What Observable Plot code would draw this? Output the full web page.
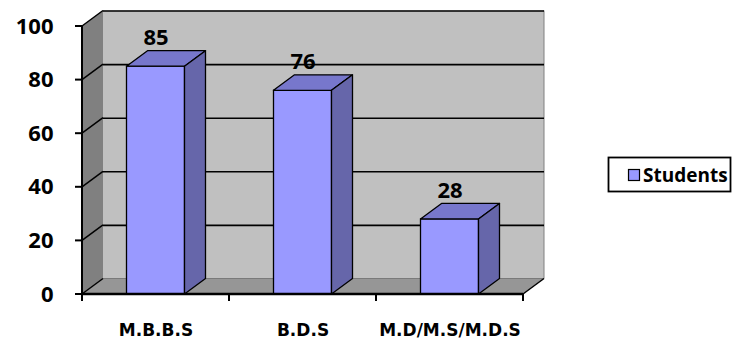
<!DOCTYPE html>
<html>
<head>
<meta charset="utf-8">
<script src="https://cdn.jsdelivr.net/npm/d3@7"></script>
<script src="https://cdn.jsdelivr.net/npm/@observablehq/plot@0.6"></script>
<style>
  html, body { margin: 0; padding: 0; background: #fff; }
  #chart { width: 733px; height: 340px; }
</style>
</head>
<body>
<div id="chart"></div>
<script>
// Number of students per course
const categories = ["M.B.B.S", "B.D.S", "M.D/M.S/M.D.S"];
const students = [85, 76, 28];
const yTicks = [0, 20, 40, 60, 80, 100];
const seriesName = "Students";

const data = categories.map((course, i) => ({course, students: students[i]}));

// 3-D look: depth offset of the box and bars, in pixels
const DEPTH_X = 21, DEPTH_Y = -15.5;
const BAR_INSET = 44.5;
const FRONT = "#9999FF", TOP = "#7777CC", SIDE = "#6666AA";
const BACK_WALL = "#C0C0C0", SIDE_WALL = "#808080", FLOOR = "#969696";

function bandwidthOf(x) {
  return typeof x.bandwidth === "function" ? x.bandwidth() : x.bandwidth;
}
function poly(g, pts, fill, stroke, sw) {
  g.append("path")
    .attr("d", "M" + pts.map(p => p.join(",")).join("L") + "Z")
    .attr("fill", fill)
    .attr("stroke", stroke || "none")
    .attr("stroke-width", sw || 1)
    .attr("stroke-linejoin", "round");
}
function seg(g, x1, y1, x2, y2, stroke, sw) {
  g.append("line")
    .attr("x1", x1).attr("y1", y1).attr("x2", x2).attr("y2", y2)
    .attr("stroke", stroke).attr("stroke-width", sw || 1);
}

// Walls and floor of the 3-D box, plus the grid lines on the left wall
function box3d(index, scales) {
  const {x, y} = scales;
  const bw = bandwidthOf(x);
  const x0 = x(categories[0]), x1 = x(categories[categories.length - 1]) + bw;
  const yb = y(0), yt = y(yTicks[yTicks.length - 1]);
  const g = d3.create("svg:g");
  poly(g, [[x0 + DEPTH_X, yt + DEPTH_Y], [x1 + DEPTH_X, yt + DEPTH_Y], [x1 + DEPTH_X, yb + DEPTH_Y], [x0 + DEPTH_X, yb + DEPTH_Y]], BACK_WALL);
  poly(g, [[x0, yt], [x0 + DEPTH_X, yt + DEPTH_Y], [x0 + DEPTH_X, yb + DEPTH_Y], [x0, yb]], SIDE_WALL);
  poly(g, [[x0, yb], [x1, yb], [x1 + DEPTH_X, yb + DEPTH_Y], [x0 + DEPTH_X, yb + DEPTH_Y]], FLOOR);
  seg(g, x0 + DEPTH_X, yb + DEPTH_Y, x1 + DEPTH_X, yb + DEPTH_Y, "#7a7a7a", 1);
  seg(g, x1 + DEPTH_X, yt + DEPTH_Y, x1 + DEPTH_X, yb + DEPTH_Y, "#808080", 1);
  for (const t of yTicks) {
    seg(g, x0, y(t), x0 + DEPTH_X, y(t) + DEPTH_Y, "#000", 1.5);
  }
  seg(g, x1, yb, x1 + DEPTH_X, yb + DEPTH_Y, "#000", 1.5);
  return g.node();
}

// Top and side faces of each bar
function barFaces(index, scales) {
  const {x, y} = scales;
  const bw = bandwidthOf(x);
  const g = d3.create("svg:g");
  for (const d of data) {
    const xl = x(d.course) + BAR_INSET, xr = x(d.course) + bw - BAR_INSET;
    const yt = y(d.students), yb = y(0);
    poly(g, [[xl, yt], [xr, yt], [xr + DEPTH_X, yt + DEPTH_Y], [xl + DEPTH_X, yt + DEPTH_Y]], TOP, "#000", 1.3);
    poly(g, [[xr, yt], [xr + DEPTH_X, yt + DEPTH_Y], [xr + DEPTH_X, yb + DEPTH_Y], [xr, yb]], SIDE, "#000", 1.3);
  }
  return g.node();
}

// Front axis lines and their tick marks
function frontAxes(index, scales) {
  const {x, y} = scales;
  const bw = bandwidthOf(x);
  const x0 = x(categories[0]), x1 = x(categories[categories.length - 1]) + bw;
  const yb = y(0), yt = y(yTicks[yTicks.length - 1]);
  const g = d3.create("svg:g");
  seg(g, x0, yt, x0, yb + 1, "#000", 2);
  seg(g, x0 - 1, yb, x1, yb, "#000", 2.5);
  for (const t of yTicks) seg(g, x0 - 7, y(t), x0, y(t), "#000", 2);
  const bounds = categories.map(c => x(c)).concat([x1]);
  for (const b of bounds) seg(g, b, yb, b, yb + 7, "#000", 2);
  return g.node();
}

// Legend box on the right
function legend() {
  const g = d3.create("svg:g");
  g.append("rect").attr("x", 608.5).attr("y", 157.5).attr("width", 122).attr("height", 34)
    .attr("fill", "#fff").attr("stroke", "#000").attr("stroke-width", 1.8);
  g.append("rect").attr("x", 628.5).attr("y", 169.5).attr("width", 11).attr("height", 11)
    .attr("fill", FRONT).attr("stroke", "#000").attr("stroke-width", 1.2);
  g.append("text").attr("x", 643).attr("y", 182)
    .attr("text-anchor", "start")
    .attr("font-family", "'Open Sans', sans-serif").attr("font-weight", "bold").attr("font-size", 19)
    .attr("fill", "#000").text(seriesName);
  return g.node();
}

const chart = Plot.plot({
  width: 733,
  height: 340,
  marginLeft: 82,
  marginRight: 210,
  marginTop: 26,
  marginBottom: 46,
  style: {
    fontFamily: "'Open Sans', sans-serif",
    fontSize: "22px",
    fontWeight: "bold",
    color: "#000",
    background: "#fff",
    overflow: "visible"
  },
  x: {domain: categories, padding: 0, axis: null},
  y: {domain: [0, 100], ticks: yTicks, tickSize: 0, tickPadding: 29, label: null, tickFormat: d => String(d)},
  marks: [
    box3d,
    Plot.ruleY(yTicks.slice(1), {dx: DEPTH_X, dy: DEPTH_Y, stroke: "#000", strokeWidth: 1.6}),
    Plot.barY(data, {x: "course", y: "students", fill: FRONT, stroke: "#000", strokeWidth: 1.3, insetLeft: BAR_INSET, insetRight: BAR_INSET}),
    barFaces,
    Plot.text(data, {x: "course", y: "students", text: d => String(d.students), dy: -28.5, lineAnchor: "middle", fontSize: 22, fontWeight: "bold", fill: "#000"}),
    Plot.text(data, {x: "course", y: () => 0, text: "course", dy: 36.5, lineAnchor: "middle", fontSize: 17, fontWeight: "bold", fontFamily: "'DejaVu Sans', sans-serif", fill: "#000"}),
    frontAxes,
    legend
  ]
});

document.getElementById("chart").appendChild(chart);
</script>
</body>
</html>
